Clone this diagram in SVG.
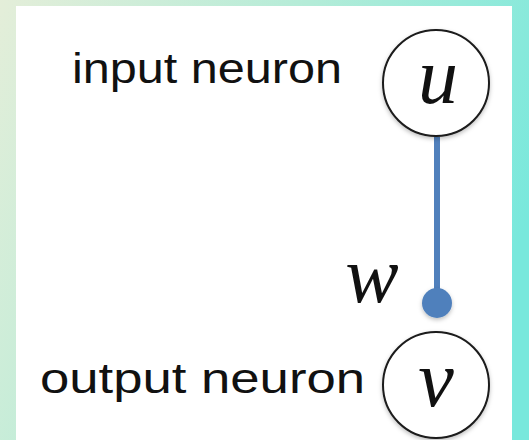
<svg xmlns="http://www.w3.org/2000/svg" width="529" height="440" viewBox="0 0 529 440">
  <defs>
    <linearGradient id="bg" x1="0" y1="0" x2="529" y2="220" gradientUnits="userSpaceOnUse">
      <stop offset="0" stop-color="#e4eed9"/>
      <stop offset="0.5" stop-color="#b4ecd8"/>
      <stop offset="1" stop-color="#78e8dc"/>
    </linearGradient>
    <filter id="sh" x="-20%" y="-20%" width="140%" height="140%">
      <feDropShadow dx="0" dy="2" stdDeviation="2" flood-color="#000" flood-opacity="0.25"/>
    </filter>
    <style>
      .lbl { font-family: "Liberation Sans", Arial, sans-serif; font-size: 42px; fill: #111; }
      .var { font-family: "Liberation Serif", "Times New Roman", serif; font-style: italic; font-size: 80px; fill: #111; text-anchor: middle; }
      .neuron { fill: #fff; stroke: #1a1a1a; stroke-width: 2; }
      .conn { stroke: #5080bc; stroke-width: 6; fill: none; }
    </style>
  </defs>
  <rect x="0" y="0" width="529" height="440" fill="url(#bg)"/>
  <rect x="16" y="6" width="496" height="434" fill="#fff"/>

  <g id="connectors">
    <line class="conn" x1="437" y1="137" x2="437" y2="303"/>
    <circle cx="437" cy="303" r="15" fill="#5080bc" filter="url(#sh)"/>
    <text class="var" x="372" y="302">w</text>
  </g>

  <g id="node-u">
    <circle class="neuron" cx="436" cy="83" r="53" filter="url(#sh)"/>
    <text class="var" x="438" y="103">u</text>
    <text class="lbl" x="72" y="83" textLength="270" lengthAdjust="spacingAndGlyphs">input neuron</text>
  </g>

  <g id="node-v">
    <circle class="neuron" cx="436" cy="385" r="53" filter="url(#sh)"/>
    <text class="var" x="436" y="406">v</text>
    <text class="lbl" x="40" y="393" textLength="325" lengthAdjust="spacingAndGlyphs">output neuron</text>
  </g>
</svg>
